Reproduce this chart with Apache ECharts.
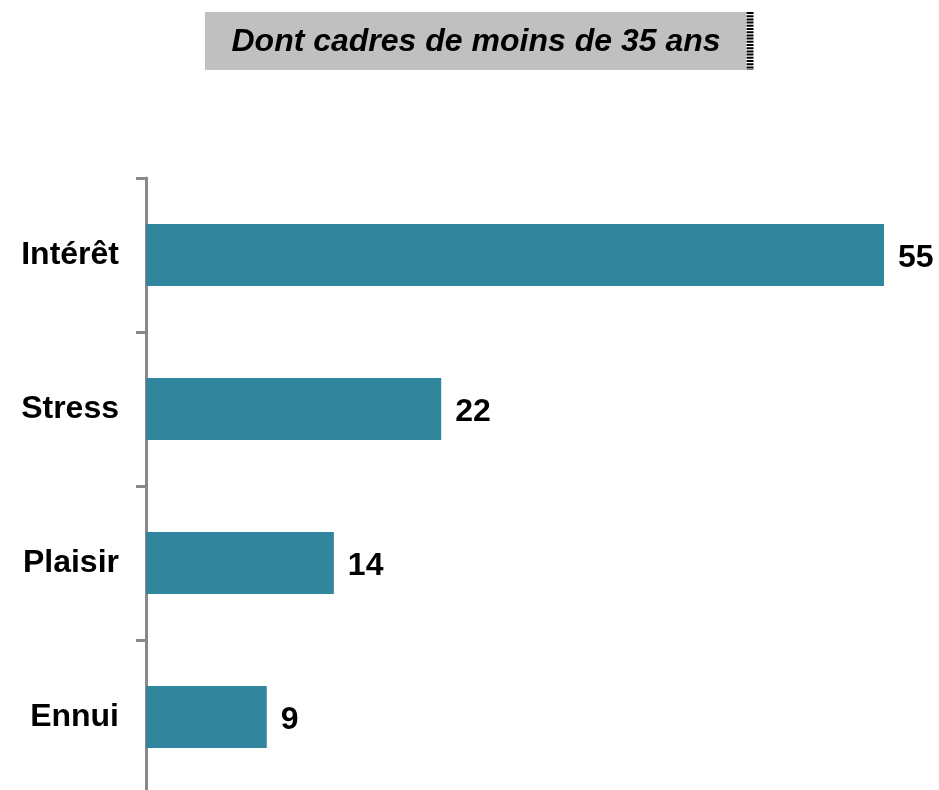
<!DOCTYPE html>
<html>
<head>
<meta charset="utf-8">
<script src="https://cdn.jsdelivr.net/npm/echarts@6/dist/echarts.min.js"></script>
<style>
html,body{margin:0;padding:0;background:#fff;overflow:hidden;}
#chart{width:939px;height:800px;}
</style>
</head>
<body>
<div id="chart"></div>
<script>
const categories = ['Intérêt', 'Stress', 'Plaisir', 'Ennui'];
const values = [55, 22, 14, 9];
const titleText = 'Dont cadres de moins de 35 ans';

const chart = echarts.init(document.getElementById('chart'));
const font = '"Liberation Sans", Arial, sans-serif';

const option = {
    animation: false,
    backgroundColor: '#fff',
    graphic: [
        {
            type: 'rect',
            shape: { x: 205, y: 12, width: 541, height: 58 },
            style: { fill: '#C0C0C0' }
        },
        {
            type: 'line',
            shape: { x1: 750, y1: 12, x2: 750, y2: 70 },
            style: { stroke: '#000', lineWidth: 7, lineDash: [2, 1.2] }
        },
        {
            type: 'text',
            x: 476,
            y: 42,
            style: {
                text: titleText,
                fill: '#000',
                font: 'italic bold 32px ' + font,
                textAlign: 'center',
                textVerticalAlign: 'middle'
            }
        }
    ],
    grid: { left: 146, top: 178, width: 738, height: 616 },
    xAxis: {
        type: 'value',
        min: 0,
        max: 55,
        show: false
    },
    yAxis: {
        type: 'category',
        inverse: true,
        data: categories,
        axisLine: { show: true, lineStyle: { color: '#888', width: 3 } },
        axisTick: { show: true, length: 10, lineStyle: { color: '#888', width: 3 } },
        axisLabel: {
            margin: 27,
            padding: [6, 0, 0, 0],
            color: '#000',
            fontSize: 32,
            fontWeight: 'bold',
            fontFamily: font
        },
        splitLine: { show: false }
    },
    series: [
        {
            type: 'bar',
            data: values,
            barWidth: 62,
            itemStyle: { color: '#31859C' },
            label: {
                show: true,
                position: 'right',
                distance: 14,
                offset: [0, 3],
                color: '#000',
                fontSize: 32,
                fontWeight: 'bold',
                fontFamily: font
            }
        }
    ]
};

chart.setOption(option);
</script>
</body>
</html>
